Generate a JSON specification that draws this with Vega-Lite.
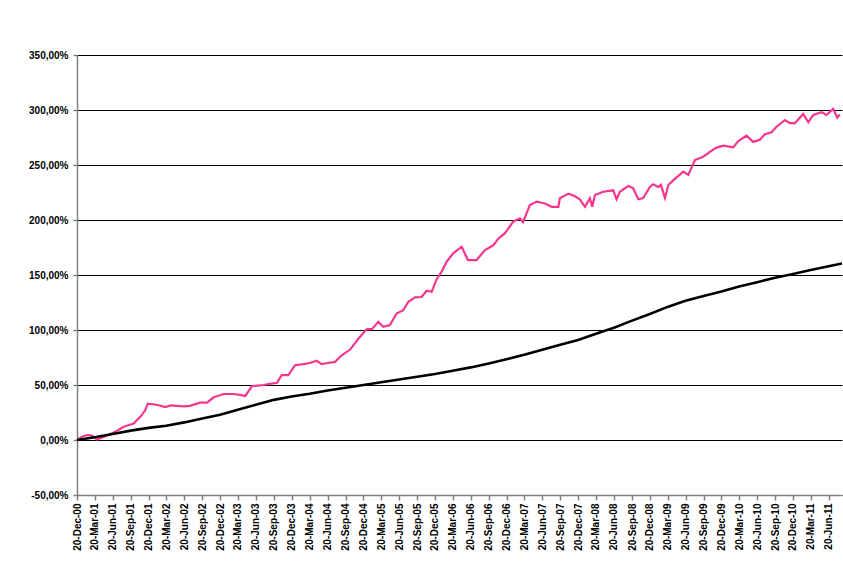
{
  "$schema": "https://vega.github.io/schema/vega-lite/v6.json",
  "width": 765,
  "height": 440,
  "autosize": {"type": "none"},
  "padding": {"left": 77, "top": 55, "right": 1, "bottom": 83},
  "background": "white",
  "config": {
    "view": {"stroke": null},
    "font": "Liberation Sans",
    "axis": {
      "labelFont": "Liberation Sans",
      "labelFontWeight": "bold",
      "labelFontSize": 10,
      "labelColor": "black",
      "domainColor": "#808080",
      "domainWidth": 1.5,
      "tickColor": "#808080",
      "tickWidth": 1.5,
      "title": null
    }
  },
  "datasets": {
    "series": [
      {"date": "2000-12-20", "s": "B", "v": 0},
      {"date": "2001-03-20", "s": "B", "v": 2.5},
      {"date": "2001-06-20", "s": "B", "v": 5.5},
      {"date": "2001-09-20", "s": "B", "v": 8.5},
      {"date": "2001-12-20", "s": "B", "v": 11},
      {"date": "2002-03-20", "s": "B", "v": 13},
      {"date": "2002-06-20", "s": "B", "v": 16},
      {"date": "2002-09-20", "s": "B", "v": 19.5},
      {"date": "2002-12-20", "s": "B", "v": 23},
      {"date": "2003-03-20", "s": "B", "v": 27.5},
      {"date": "2003-06-20", "s": "B", "v": 32},
      {"date": "2003-09-20", "s": "B", "v": 36.5},
      {"date": "2003-12-20", "s": "B", "v": 39.5},
      {"date": "2004-03-20", "s": "B", "v": 42},
      {"date": "2004-06-20", "s": "B", "v": 45},
      {"date": "2004-09-20", "s": "B", "v": 47.5},
      {"date": "2004-12-20", "s": "B", "v": 50},
      {"date": "2005-03-20", "s": "B", "v": 52.5},
      {"date": "2005-06-20", "s": "B", "v": 55},
      {"date": "2005-09-20", "s": "B", "v": 57.5},
      {"date": "2005-12-20", "s": "B", "v": 60},
      {"date": "2006-03-20", "s": "B", "v": 63},
      {"date": "2006-06-20", "s": "B", "v": 66},
      {"date": "2006-09-20", "s": "B", "v": 69.5},
      {"date": "2006-12-20", "s": "B", "v": 73.5},
      {"date": "2007-03-20", "s": "B", "v": 77.5},
      {"date": "2007-06-20", "s": "B", "v": 82},
      {"date": "2007-09-20", "s": "B", "v": 86.5},
      {"date": "2007-12-20", "s": "B", "v": 91},
      {"date": "2008-03-20", "s": "B", "v": 96.5},
      {"date": "2008-06-20", "s": "B", "v": 102},
      {"date": "2008-09-20", "s": "B", "v": 108.5},
      {"date": "2008-12-20", "s": "B", "v": 114.5},
      {"date": "2009-03-20", "s": "B", "v": 121},
      {"date": "2009-06-20", "s": "B", "v": 126.5},
      {"date": "2009-09-20", "s": "B", "v": 131},
      {"date": "2009-12-20", "s": "B", "v": 135},
      {"date": "2010-03-20", "s": "B", "v": 139.5},
      {"date": "2010-06-20", "s": "B", "v": 143.5},
      {"date": "2010-09-20", "s": "B", "v": 147.5},
      {"date": "2010-12-20", "s": "B", "v": 151},
      {"date": "2011-03-20", "s": "B", "v": 154.5},
      {"date": "2011-06-20", "s": "B", "v": 158},
      {"date": "2011-08-27", "s": "B", "v": 160.5},

      {"date": "2000-12-20", "s": "P", "v": 0},
      {"date": "2001-01-15", "s": "P", "v": 3},
      {"date": "2001-02-09", "s": "P", "v": 4.5},
      {"date": "2001-03-06", "s": "P", "v": 4},
      {"date": "2001-04-01", "s": "P", "v": 0.5},
      {"date": "2001-05-07", "s": "P", "v": 3},
      {"date": "2001-06-25", "s": "P", "v": 6.7},
      {"date": "2001-08-15", "s": "P", "v": 12},
      {"date": "2001-10-05", "s": "P", "v": 15},
      {"date": "2001-11-08", "s": "P", "v": 21},
      {"date": "2001-12-03", "s": "P", "v": 27},
      {"date": "2001-12-16", "s": "P", "v": 33},
      {"date": "2002-01-07", "s": "P", "v": 32.5},
      {"date": "2002-02-01", "s": "P", "v": 32},
      {"date": "2002-03-14", "s": "P", "v": 30},
      {"date": "2002-04-13", "s": "P", "v": 31.5},
      {"date": "2002-05-14", "s": "P", "v": 31},
      {"date": "2002-06-19", "s": "P", "v": 30.5},
      {"date": "2002-07-19", "s": "P", "v": 31},
      {"date": "2002-09-08", "s": "P", "v": 34},
      {"date": "2002-10-14", "s": "P", "v": 34},
      {"date": "2002-11-17", "s": "P", "v": 38.8},
      {"date": "2003-01-07", "s": "P", "v": 41.8},
      {"date": "2003-02-27", "s": "P", "v": 41.8},
      {"date": "2003-03-31", "s": "P", "v": 41},
      {"date": "2003-04-27", "s": "P", "v": 40},
      {"date": "2003-06-01", "s": "P", "v": 49},
      {"date": "2003-07-01", "s": "P", "v": 49.5},
      {"date": "2003-07-30", "s": "P", "v": 50},
      {"date": "2003-08-31", "s": "P", "v": 51},
      {"date": "2003-10-06", "s": "P", "v": 52},
      {"date": "2003-10-30", "s": "P", "v": 59},
      {"date": "2003-12-03", "s": "P", "v": 59},
      {"date": "2004-01-06", "s": "P", "v": 68},
      {"date": "2004-02-17", "s": "P", "v": 69},
      {"date": "2004-03-22", "s": "P", "v": 70},
      {"date": "2004-04-25", "s": "P", "v": 72},
      {"date": "2004-05-21", "s": "P", "v": 69},
      {"date": "2004-06-22", "s": "P", "v": 70},
      {"date": "2004-07-28", "s": "P", "v": 71},
      {"date": "2004-08-31", "s": "P", "v": 77},
      {"date": "2004-10-12", "s": "P", "v": 82},
      {"date": "2004-11-24", "s": "P", "v": 92},
      {"date": "2005-01-05", "s": "P", "v": 100.6},
      {"date": "2005-02-02", "s": "P", "v": 101},
      {"date": "2005-03-06", "s": "P", "v": 107.5},
      {"date": "2005-03-31", "s": "P", "v": 103},
      {"date": "2005-05-04", "s": "P", "v": 104.5},
      {"date": "2005-06-07", "s": "P", "v": 115},
      {"date": "2005-07-11", "s": "P", "v": 118},
      {"date": "2005-08-06", "s": "P", "v": 125.7},
      {"date": "2005-09-09", "s": "P", "v": 129.7},
      {"date": "2005-10-13", "s": "P", "v": 130},
      {"date": "2005-11-07", "s": "P", "v": 135.7},
      {"date": "2005-12-03", "s": "P", "v": 134.8},
      {"date": "2005-12-28", "s": "P", "v": 146},
      {"date": "2006-01-23", "s": "P", "v": 153},
      {"date": "2006-02-17", "s": "P", "v": 162},
      {"date": "2006-03-23", "s": "P", "v": 169.7},
      {"date": "2006-05-05", "s": "P", "v": 175.7},
      {"date": "2006-06-06", "s": "P", "v": 163.6},
      {"date": "2006-07-20", "s": "P", "v": 163.6},
      {"date": "2006-09-01", "s": "P", "v": 172.7},
      {"date": "2006-10-13", "s": "P", "v": 177},
      {"date": "2006-11-08", "s": "P", "v": 183},
      {"date": "2006-12-12", "s": "P", "v": 188},
      {"date": "2007-01-23", "s": "P", "v": 198.5},
      {"date": "2007-02-26", "s": "P", "v": 201.5},
      {"date": "2007-03-14", "s": "P", "v": 198},
      {"date": "2007-04-18", "s": "P", "v": 213.6},
      {"date": "2007-05-22", "s": "P", "v": 216.7},
      {"date": "2007-07-04", "s": "P", "v": 215},
      {"date": "2007-08-07", "s": "P", "v": 212},
      {"date": "2007-09-10", "s": "P", "v": 212},
      {"date": "2007-09-18", "s": "P", "v": 219.7},
      {"date": "2007-10-31", "s": "P", "v": 224},
      {"date": "2007-11-29", "s": "P", "v": 222},
      {"date": "2007-12-29", "s": "P", "v": 218.8},
      {"date": "2008-01-24", "s": "P", "v": 212},
      {"date": "2008-02-18", "s": "P", "v": 219.7},
      {"date": "2008-03-01", "s": "P", "v": 212},
      {"date": "2008-03-15", "s": "P", "v": 222.7},
      {"date": "2008-04-26", "s": "P", "v": 225.7},
      {"date": "2008-06-16", "s": "P", "v": 227},
      {"date": "2008-07-03", "s": "P", "v": 218.8},
      {"date": "2008-07-20", "s": "P", "v": 225.7},
      {"date": "2008-09-01", "s": "P", "v": 231},
      {"date": "2008-09-25", "s": "P", "v": 229},
      {"date": "2008-10-22", "s": "P", "v": 218.8},
      {"date": "2008-11-16", "s": "P", "v": 220},
      {"date": "2008-12-20", "s": "P", "v": 230},
      {"date": "2009-01-06", "s": "P", "v": 232.4},
      {"date": "2009-02-01", "s": "P", "v": 230},
      {"date": "2009-02-14", "s": "P", "v": 232},
      {"date": "2009-03-07", "s": "P", "v": 220},
      {"date": "2009-03-24", "s": "P", "v": 231.8},
      {"date": "2009-04-18", "s": "P", "v": 236},
      {"date": "2009-06-08", "s": "P", "v": 244},
      {"date": "2009-07-04", "s": "P", "v": 241},
      {"date": "2009-08-07", "s": "P", "v": 254.5},
      {"date": "2009-09-18", "s": "P", "v": 257.5},
      {"date": "2009-10-22", "s": "P", "v": 262},
      {"date": "2009-11-25", "s": "P", "v": 265.8},
      {"date": "2009-12-29", "s": "P", "v": 267.5},
      {"date": "2010-02-18", "s": "P", "v": 266},
      {"date": "2010-03-16", "s": "P", "v": 271.8},
      {"date": "2010-04-27", "s": "P", "v": 276.6},
      {"date": "2010-05-31", "s": "P", "v": 271},
      {"date": "2010-07-04", "s": "P", "v": 273},
      {"date": "2010-07-30", "s": "P", "v": 278},
      {"date": "2010-09-02", "s": "P", "v": 279.7},
      {"date": "2010-09-27", "s": "P", "v": 284.8},
      {"date": "2010-11-09", "s": "P", "v": 290.9},
      {"date": "2010-12-04", "s": "P", "v": 288},
      {"date": "2010-12-30", "s": "P", "v": 288},
      {"date": "2011-02-10", "s": "P", "v": 296.4},
      {"date": "2011-03-08", "s": "P", "v": 288.8},
      {"date": "2011-04-02", "s": "P", "v": 295.5},
      {"date": "2011-05-15", "s": "P", "v": 297.9},
      {"date": "2011-06-09", "s": "P", "v": 295.5},
      {"date": "2011-07-13", "s": "P", "v": 301},
      {"date": "2011-08-03", "s": "P", "v": 293},
      {"date": "2011-08-16", "s": "P", "v": 296}
    ]
  },
  "data": {"name": "series"},
  "encoding": {
    "x": {
      "field": "date",
      "type": "temporal",
      "scale": {
        "type": "utc",
        "domain": [
          {"year": 2000, "month": 12, "date": 20, "utc": true},
          {"year": 2011, "month": 8, "date": 27, "utc": true}
        ]
      },
      "axis": {
        "grid": false,
        "labelAngle": -90,
        "labelAlign": "right",
        "labelBaseline": "middle",
        "tickSize": 5,
        "labelPadding": 3,
        "labelOverlap": false,
        "labelExpr": "utcFormat(datum.value, '%d-%b-%y')",
        "values": [
          {"year": 2000, "month": 12, "date": 20, "utc": true},
          {"year": 2001, "month": 3, "date": 20, "utc": true},
          {"year": 2001, "month": 6, "date": 20, "utc": true},
          {"year": 2001, "month": 9, "date": 20, "utc": true},
          {"year": 2001, "month": 12, "date": 20, "utc": true},
          {"year": 2002, "month": 3, "date": 20, "utc": true},
          {"year": 2002, "month": 6, "date": 20, "utc": true},
          {"year": 2002, "month": 9, "date": 20, "utc": true},
          {"year": 2002, "month": 12, "date": 20, "utc": true},
          {"year": 2003, "month": 3, "date": 20, "utc": true},
          {"year": 2003, "month": 6, "date": 20, "utc": true},
          {"year": 2003, "month": 9, "date": 20, "utc": true},
          {"year": 2003, "month": 12, "date": 20, "utc": true},
          {"year": 2004, "month": 3, "date": 20, "utc": true},
          {"year": 2004, "month": 6, "date": 20, "utc": true},
          {"year": 2004, "month": 9, "date": 20, "utc": true},
          {"year": 2004, "month": 12, "date": 20, "utc": true},
          {"year": 2005, "month": 3, "date": 20, "utc": true},
          {"year": 2005, "month": 6, "date": 20, "utc": true},
          {"year": 2005, "month": 9, "date": 20, "utc": true},
          {"year": 2005, "month": 12, "date": 20, "utc": true},
          {"year": 2006, "month": 3, "date": 20, "utc": true},
          {"year": 2006, "month": 6, "date": 20, "utc": true},
          {"year": 2006, "month": 9, "date": 20, "utc": true},
          {"year": 2006, "month": 12, "date": 20, "utc": true},
          {"year": 2007, "month": 3, "date": 20, "utc": true},
          {"year": 2007, "month": 6, "date": 20, "utc": true},
          {"year": 2007, "month": 9, "date": 20, "utc": true},
          {"year": 2007, "month": 12, "date": 20, "utc": true},
          {"year": 2008, "month": 3, "date": 20, "utc": true},
          {"year": 2008, "month": 6, "date": 20, "utc": true},
          {"year": 2008, "month": 9, "date": 20, "utc": true},
          {"year": 2008, "month": 12, "date": 20, "utc": true},
          {"year": 2009, "month": 3, "date": 20, "utc": true},
          {"year": 2009, "month": 6, "date": 20, "utc": true},
          {"year": 2009, "month": 9, "date": 20, "utc": true},
          {"year": 2009, "month": 12, "date": 20, "utc": true},
          {"year": 2010, "month": 3, "date": 20, "utc": true},
          {"year": 2010, "month": 6, "date": 20, "utc": true},
          {"year": 2010, "month": 9, "date": 20, "utc": true},
          {"year": 2010, "month": 12, "date": 20, "utc": true},
          {"year": 2011, "month": 3, "date": 20, "utc": true},
          {"year": 2011, "month": 6, "date": 20, "utc": true}
        ]
      }
    },
    "y": {
      "field": "v",
      "type": "quantitative",
      "scale": {"domain": [-50, 350], "nice": false, "zero": false},
      "axis": {
        "values": [-50, 0, 50, 100, 150, 200, 250, 300, 350],
        "grid": true,
        "gridColor": "black",
        "gridWidth": 1,
        "gridOpacity": 1,
        "tickSize": 4,
        "labelPadding": 5,
        "labelExpr": "(datum.value < 0 ? '-' : '') + replace(format(abs(datum.value), '.2f'), '.', ',') + '%'"
      }
    }
  },
  "layer": [
    {
      "transform": [{"filter": "datum.s === 'P'"}],
      "mark": {"type": "line", "color": "#F5368F", "strokeWidth": 2.2, "clip": true}
    },
    {
      "transform": [{"filter": "datum.s === 'B'"}],
      "mark": {"type": "line", "color": "black", "strokeWidth": 2.6, "clip": true}
    }
  ]
}
